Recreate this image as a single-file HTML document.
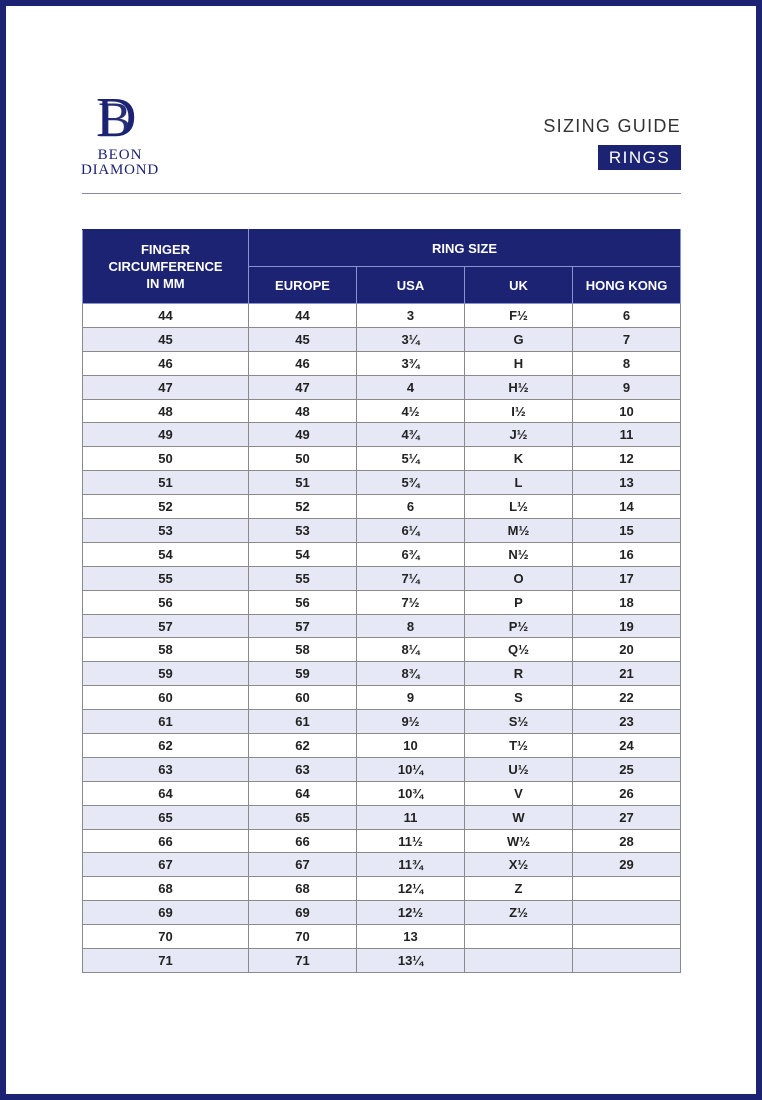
<!DOCTYPE html>
<html><head><meta charset="utf-8"><style>
body{margin:0;width:762px;height:1100px;background:#fff;font-family:"Liberation Sans",sans-serif;position:relative;overflow:hidden}
.frame{position:absolute;left:0;top:0;width:762px;height:1100px;box-sizing:border-box;border:6px solid #1c2372}
.logo{position:absolute;left:78px;top:90px;width:84px;text-align:center;color:#1c2372;font-family:"Liberation Serif",serif}
.sg{position:absolute;right:81px;top:116px;font-size:18px;letter-spacing:1.3px;color:#333;}
.rings{position:absolute;left:598px;top:145px;width:83px;height:25px;background:#1c2372;color:#fff;font-size:17px;letter-spacing:1.5px;text-align:center;line-height:25px}
.hr{position:absolute;left:82px;top:193px;width:599px;height:1px;background:#8a8aa0}
table{position:absolute;left:82px;top:229px;border-collapse:collapse;width:599px;font-weight:bold;font-size:13px;color:#222}
td,th{border:1px solid #8a8a8a;text-align:center;padding:0;height:22.9px}
th{background:#1c2372;color:#fff;font-size:13px;border-color:#8a93d0;border-top-color:#1c2372}
tr.a td{background:#e6e9f5}
</style></head><body>
<div class="frame"></div>
<div class="logo">
<svg width="84" height="50" viewBox="0 0 84 50"><text x="18" y="46" font-family="Liberation Serif" font-size="56" fill="#1c2372" transform="scale(1,1)">D</text><text x="20" y="46" font-family="Liberation Serif" font-size="50" fill="#1c2372" opacity="0.95">B</text></svg>
<div style="font-size:15px;letter-spacing:1px;line-height:15px;margin-top:3px">BEON</div>
<div style="font-size:15px;letter-spacing:0.8px;line-height:15px">DIAMOND</div>
</div>
<div class="sg">SIZING GUIDE</div>
<div class="rings">RINGS</div>
<div class="hr"></div>
<table>
<tr><th rowspan="2" style="width:165px;height:72px;line-height:17px">FINGER<br>CIRCUMFERENCE<br>IN MM</th><th colspan="4" style="height:36px">RING SIZE</th></tr>
<tr><th style="width:107px;height:36px">EUROPE</th><th style="width:107px">USA</th><th style="width:107px">UK</th><th>HONG KONG</th></tr>
<tr><td>44</td><td>44</td><td>3</td><td>F½</td><td>6</td></tr>
<tr class="a"><td>45</td><td>45</td><td>3¼</td><td>G</td><td>7</td></tr>
<tr><td>46</td><td>46</td><td>3¾</td><td>H</td><td>8</td></tr>
<tr class="a"><td>47</td><td>47</td><td>4</td><td>H½</td><td>9</td></tr>
<tr><td>48</td><td>48</td><td>4½</td><td>I½</td><td>10</td></tr>
<tr class="a"><td>49</td><td>49</td><td>4¾</td><td>J½</td><td>11</td></tr>
<tr><td>50</td><td>50</td><td>5¼</td><td>K</td><td>12</td></tr>
<tr class="a"><td>51</td><td>51</td><td>5¾</td><td>L</td><td>13</td></tr>
<tr><td>52</td><td>52</td><td>6</td><td>L½</td><td>14</td></tr>
<tr class="a"><td>53</td><td>53</td><td>6¼</td><td>M½</td><td>15</td></tr>
<tr><td>54</td><td>54</td><td>6¾</td><td>N½</td><td>16</td></tr>
<tr class="a"><td>55</td><td>55</td><td>7¼</td><td>O</td><td>17</td></tr>
<tr><td>56</td><td>56</td><td>7½</td><td>P</td><td>18</td></tr>
<tr class="a"><td>57</td><td>57</td><td>8</td><td>P½</td><td>19</td></tr>
<tr><td>58</td><td>58</td><td>8¼</td><td>Q½</td><td>20</td></tr>
<tr class="a"><td>59</td><td>59</td><td>8¾</td><td>R</td><td>21</td></tr>
<tr><td>60</td><td>60</td><td>9</td><td>S</td><td>22</td></tr>
<tr class="a"><td>61</td><td>61</td><td>9½</td><td>S½</td><td>23</td></tr>
<tr><td>62</td><td>62</td><td>10</td><td>T½</td><td>24</td></tr>
<tr class="a"><td>63</td><td>63</td><td>10¼</td><td>U½</td><td>25</td></tr>
<tr><td>64</td><td>64</td><td>10¾</td><td>V</td><td>26</td></tr>
<tr class="a"><td>65</td><td>65</td><td>11</td><td>W</td><td>27</td></tr>
<tr><td>66</td><td>66</td><td>11½</td><td>W½</td><td>28</td></tr>
<tr class="a"><td>67</td><td>67</td><td>11¾</td><td>X½</td><td>29</td></tr>
<tr><td>68</td><td>68</td><td>12¼</td><td>Z</td><td></td></tr>
<tr class="a"><td>69</td><td>69</td><td>12½</td><td>Z½</td><td></td></tr>
<tr><td>70</td><td>70</td><td>13</td><td></td><td></td></tr>
<tr class="a"><td>71</td><td>71</td><td>13¼</td><td></td><td></td></tr>
</table>
</body></html>
